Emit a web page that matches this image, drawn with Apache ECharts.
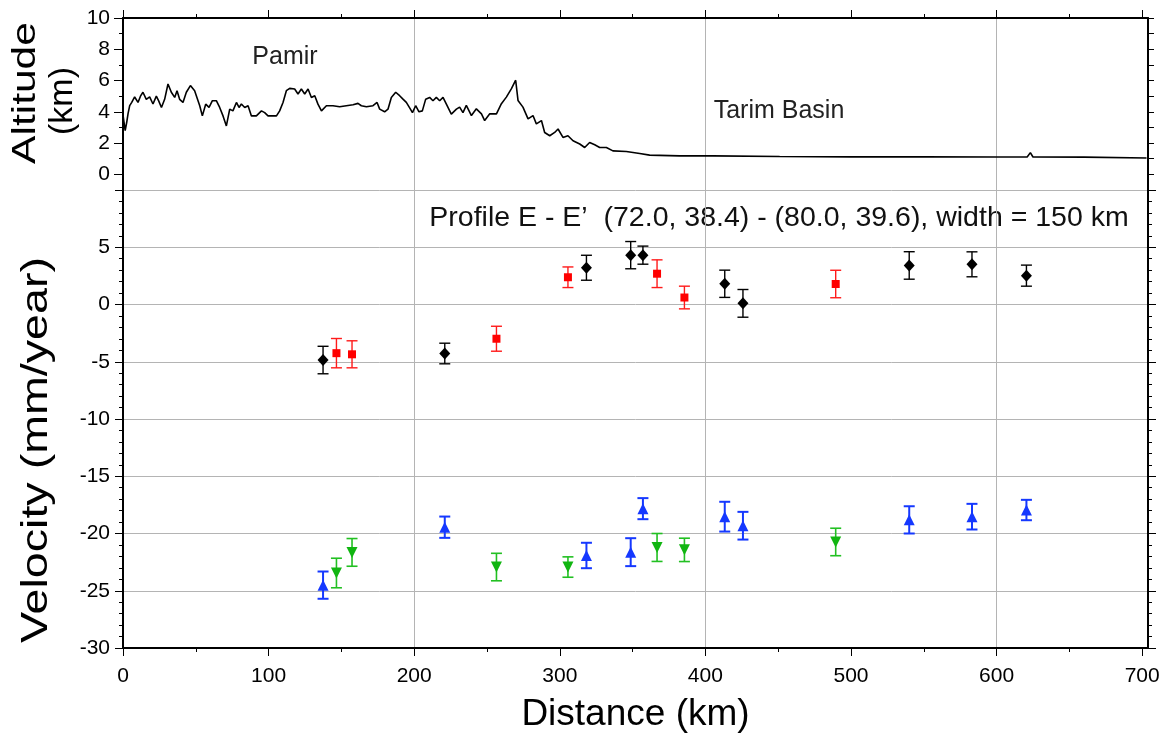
<!DOCTYPE html>
<html>
<head>
<meta charset="utf-8">
<title>Profile E - E'</title>
<script src="https://cdn.jsdelivr.net/npm/echarts@6/dist/echarts.min.js"></script>
<style>
    html, body { margin: 0; padding: 0; background: #fff; }
    #mainChart { width: 1160px; height: 734px; }
</style>
</head>
<body>
<div id="mainChart"></div>
<script>
// topography along the profile (km, km)
var altDist = [0, 1.5, 2.5, 3.5, 4.6, 6, 8, 10.3, 12, 13.7, 16, 18.3, 20.6, 22.9, 24.5, 26.4, 28.6, 30.9, 33.2, 35.5,
    37.1, 38.9, 41.2, 43.5, 46.3, 49.2, 52.7, 54.5, 56.8, 59.1, 61.4, 64.1, 66.4, 68.7, 71, 73.3, 75.5, 77.9, 79.7, 81.3,
    83.6, 85.9, 88.2, 91.6, 95.1, 97.3, 99.6, 105.4, 107.6, 109.9, 112.2, 114.5, 117.9, 120.2, 122.5, 124.8, 127.1, 129.4, 131.7, 133.9,
    136.3, 139.7, 144.2, 148.8, 153.4, 158, 161.4, 163.7, 167.2, 171.7, 174.5, 176.3, 179.7, 182, 184.3, 187.3, 190, 192.3, 194.6, 197.4,
    198.8, 201, 203.3, 205.6, 207.9, 210.6, 212.9, 215.2, 217.5, 219.8, 222.1, 225.5, 229, 231.2, 233.5, 235.8, 239.3, 242.7, 246.2, 248.4,
    251.9, 256.5, 259.9, 263.3, 266.8, 269.7, 271.3, 274.7, 278.2, 281.6, 283.9, 287.4, 289.6, 293.1, 296.5, 298.8, 302.2, 305.6, 309.1, 313.7,
    317.1, 320.5, 324, 327.4, 332, 336.5, 345.7, 354.9, 361.7, 382.3, 405.2, 451, 500, 550, 600, 621, 623.2, 625, 660, 703];
var altKm = [3.8, 2.8, 3.3, 3.9, 4.4, 4.6, 4.95, 4.6, 5.0, 5.25, 4.8, 4.95, 4.5, 5.0, 4.7, 4.28, 4.8, 5.78, 5.25, 4.92,
    5.35, 4.8, 4.6, 5.25, 5.68, 5.35, 4.39, 3.74, 4.49, 4.28, 4.71, 4.71, 4.28, 3.74, 3.1, 4.17, 4.06, 4.6, 4.28, 4.5,
    4.28, 4.39, 3.74, 3.74, 4.06, 3.95, 3.74, 3.74, 4.06, 4.6, 5.35, 5.5, 5.46, 5.14, 5.46, 5.14, 5.46, 4.92, 5.03, 4.49,
    4.06, 4.39, 4.39, 4.32, 4.39, 4.45, 4.54, 4.39, 4.32, 4.39, 4.6, 4.17, 4.0, 4.17, 4.92, 5.25, 5.03, 4.81, 4.6, 4.17,
    3.95, 4.39, 4.0, 4.06, 4.81, 4.92, 4.71, 4.92, 4.71, 4.92, 4.49, 3.85, 4.17, 4.3, 3.95, 4.41, 3.76, 4.19, 3.87, 3.44,
    3.87, 3.87, 4.52, 4.94, 5.48, 6.02, 4.73, 4.3, 3.55, 3.76, 3.23, 3.44, 2.68, 2.47, 2.68, 2.9, 2.36, 2.47, 2.15, 1.94,
    1.72, 2.04, 1.89, 1.72, 1.72, 1.5, 1.46, 1.33, 1.23, 1.18, 1.18, 1.14, 1.12, 1.12, 1.11, 1.11, 1.39, 1.11, 1.1, 1.05];

// velocities (mm/year) with 1-sigma errors
var blackX = [137.4, 221, 318.3, 348.7, 357.1, 413.3, 425.8, 540, 583.1, 620.5];
var blackV = [-4.85, -4.28, 3.21, 4.31, 4.31, 1.81, 0.1, 3.41, 3.51, 2.52];
var blackE = [1.2, 0.9, 1.09, 1.19, 0.79, 1.19, 1.21, 1.2, 1.09, 0.92];

var redX = [146.6, 157.3, 256.5, 305.6, 366.8, 385.6, 489.5];
var redV = [-4.25, -4.35, -2.99, 2.38, 2.69, 0.61, 1.79];
var redE = [1.28, 1.18, 1.09, 0.9, 1.21, 0.99, 1.2];

var blueX = [137.4, 221, 318.3, 348.7, 357.1, 413.3, 425.8, 540, 583.1, 620.5];
var blueV = [-24.51, -19.45, -21.92, -21.63, -17.83, -18.53, -19.32, -18.81, -18.53, -17.95];
var blueE = [1.19, 0.93, 1.11, 1.22, 0.92, 1.3, 1.21, 1.19, 1.12, 0.89];

var greenX = [146.6, 157.3, 256.5, 305.6, 366.8, 385.6, 489.5];
var greenV = [-23.45, -21.65, -22.93, -22.93, -21.22, -21.43, -20.74];
var greenE = [1.29, 1.21, 1.2, 0.89, 1.22, 1.02, 1.2];

// tick labels
var distMajor = [0, 100, 200, 300, 400, 500, 600, 700];
var distMinor = [0, 50, 100, 150, 200, 250, 300, 350, 400, 450, 500, 550, 600, 650, 700];
var altMajor = [0, 2, 4, 6, 8, 10];

var FONT = "'Liberation Sans', Helvetica, Arial, sans-serif";
var X_MAX = 704;

var myChart = echarts.init(document.getElementById('mainChart'));

function pairs(xs, ys) {
    var out = [];
    for (var i = 0; i < xs.length; i++) {
        out.push([xs[i], ys[i]]);
    }
    return out;
}

function errData(xs, vs, es) {
    var out = [];
    for (var i = 0; i < xs.length; i++) {
        out.push([xs[i], vs[i] - es[i], vs[i] + es[i]]);
    }
    return out;
}

// vertical error bar with caps
function errSeries(xs, vs, es, color, lw) {
    return {
        type: 'custom',
        xAxisIndex: 3,
        yAxisIndex: 3,
        silent: true,
        z: 3,
        encode: {x: 0, y: [1, 2]},
        data: errData(xs, vs, es),
        renderItem: function (params, api) {
            var lo = api.coord([api.value(0), api.value(1)]);
            var hi = api.coord([api.value(0), api.value(2)]);
            var w = 5.5;
            var st = {stroke: color, lineWidth: lw};
            return {
                type: 'group',
                children: [
                    {type: 'line', shape: {x1: lo[0], y1: lo[1], x2: hi[0], y2: hi[1]}, style: st},
                    {type: 'line', shape: {x1: lo[0] - w, y1: lo[1], x2: lo[0] + w, y2: lo[1]}, style: st},
                    {type: 'line', shape: {x1: hi[0] - w, y1: hi[1], x2: hi[0] + w, y2: hi[1]}, style: st}
                ]
            };
        }
    };
}

function markSeries(xs, vs, color, symbol, size, rotate) {
    return {
        type: 'scatter',
        xAxisIndex: 3,
        yAxisIndex: 3,
        symbol: symbol,
        symbolSize: size,
        symbolRotate: rotate || 0,
        z: 4,
        itemStyle: {color: color, opacity: 1},
        data: pairs(xs, vs)
    };
}

var blackLine = {show: true, onZero: false, lineStyle: {color: '#000', width: 2}};
var hideLine = {show: false, onZero: false};
var gridLine = {show: true, lineStyle: {color: '#b4b4b4', width: 1}};
var noLabel = {show: false};
var tickStyle = {color: '#000', width: 1};

var option = {
    animation: false,
    backgroundColor: '#fff',
    grid: [
        {left: 123, top: 18, width: 1025, height: 172, outerBoundsMode: 'none'},
        {left: 123, top: 190, width: 1025, height: 458, outerBoundsMode: 'none'}
    ],
    xAxis: [
        // altitude panel: top frame with ticks
        {gridIndex: 0, type: 'value', position: 'top', min: 0, max: X_MAX, interval: 100,
            axisLine: blackLine,
            axisTick: {show: true, length: 4, customValues: distMinor, lineStyle: tickStyle},
            axisLabel: noLabel, splitLine: {show: false}},
        {gridIndex: 0, type: 'value', position: 'top', min: 0, max: X_MAX, interval: 100,
            axisLine: hideLine,
            axisTick: {show: true, length: 8, customValues: distMajor, lineStyle: tickStyle},
            axisLabel: noLabel, splitLine: {show: false}},
        {gridIndex: 0, type: 'value', position: 'bottom', min: 0, max: X_MAX, interval: 200,
            axisLine: hideLine, axisTick: {show: false}, axisLabel: noLabel, splitLine: gridLine},
        // velocity panel: bottom axis
        {gridIndex: 1, type: 'value', position: 'bottom', min: 0, max: X_MAX, interval: 100,
            axisLine: blackLine,
            axisTick: {show: true, length: 4, customValues: distMinor, lineStyle: tickStyle},
            axisLabel: noLabel, splitLine: {show: false}},
        {gridIndex: 1, type: 'value', position: 'bottom', min: 0, max: X_MAX, interval: 100,
            name: 'Distance (km)', nameLocation: 'middle', nameGap: 48,
            nameTextStyle: {fontFamily: FONT, fontSize: 37, color: '#000'},
            axisLine: hideLine,
            axisTick: {show: true, length: 8, customValues: distMajor, lineStyle: tickStyle},
            axisLabel: {show: true, customValues: distMajor, margin: 18, fontFamily: FONT, fontSize: 21, color: '#000'},
            splitLine: {show: false}},
        {gridIndex: 1, type: 'value', position: 'bottom', min: 0, max: X_MAX, interval: 200,
            axisLine: hideLine, axisTick: {show: false}, axisLabel: noLabel, splitLine: gridLine}
    ],
    yAxis: [
        {gridIndex: 0, type: 'value', position: 'left', min: -1, max: 10, interval: 1,
            axisLine: blackLine,
            axisTick: {show: true, length: 4, lineStyle: tickStyle},
            axisLabel: noLabel, splitLine: {show: false}},
        {gridIndex: 0, type: 'value', position: 'left', min: -1, max: 10, interval: 1,
            axisLine: hideLine,
            axisTick: {show: true, length: 9, customValues: altMajor, lineStyle: tickStyle},
            axisLabel: {show: true, customValues: altMajor, margin: 13, fontFamily: FONT, fontSize: 21, color: '#000'},
            splitLine: {show: false}},
        {gridIndex: 0, type: 'value', position: 'right', min: -1, max: 10, interval: 1,
            axisLine: blackLine,
            axisTick: {show: true, length: 6, lineStyle: tickStyle},
            axisLabel: noLabel, splitLine: {show: false}},
        {gridIndex: 1, type: 'value', position: 'left', min: -30, max: 10, interval: 5,
            axisLine: blackLine,
            axisTick: {show: true, length: 8, lineStyle: tickStyle},
            minorTick: {show: true, splitNumber: 5, length: 4, lineStyle: tickStyle},
            axisLabel: {show: true, margin: 13, fontFamily: FONT, fontSize: 21, color: '#000',
                formatter: function (v) { return v >= 10 ? '' : String(v); }},
            splitLine: gridLine},
        {gridIndex: 1, type: 'value', position: 'right', min: -30, max: 10, interval: 5,
            axisLine: blackLine,
            axisTick: {show: true, length: 8, lineStyle: tickStyle},
            minorTick: {show: true, splitNumber: 5, length: 4, lineStyle: tickStyle},
            axisLabel: noLabel, splitLine: {show: false}}
    ],
    graphic: [
        {type: 'text', x: 26, y: 93, rotation: Math.PI / 2, scaleX: 1.25,
            style: {text: 'Altitude', fontFamily: FONT, fontSize: 34, fill: '#000',
                align: 'center', verticalAlign: 'middle', textAlign: 'center', textVerticalAlign: 'middle'}},
        {type: 'text', x: 63, y: 101, rotation: Math.PI / 2,
            style: {text: '(km)', fontFamily: FONT, fontSize: 34, fill: '#000',
                align: 'center', verticalAlign: 'middle', textAlign: 'center', textVerticalAlign: 'middle'}},
        {type: 'text', x: 37, y: 450, rotation: Math.PI / 2, scaleX: 1.26,
            style: {text: 'Velocity (mm/year)', fontFamily: FONT, fontSize: 37, fill: '#000',
                align: 'center', verticalAlign: 'middle', textAlign: 'center', textVerticalAlign: 'middle'}},
        {type: 'text', x: 285, y: 57,
            style: {text: 'Pamir', fontFamily: FONT, fontSize: 25, fill: '#222',
                align: 'center', verticalAlign: 'middle', textAlign: 'center', textVerticalAlign: 'middle'}},
        {type: 'text', x: 779, y: 111,
            style: {text: 'Tarim Basin', fontFamily: FONT, fontSize: 25, fill: '#222',
                align: 'center', verticalAlign: 'middle', textAlign: 'center', textVerticalAlign: 'middle'}},
        {type: 'text', x: 779, y: 218,
            style: {text: 'Profile E - E\u2019  (72.0, 38.4) - (80.0, 39.6), width = 150 km', fontFamily: FONT, fontSize: 28.5, fill: '#111',
                align: 'center', verticalAlign: 'middle', textAlign: 'center', textVerticalAlign: 'middle'}}
    ],
    series: [
        {
            type: 'line',
            xAxisIndex: 0,
            yAxisIndex: 0,
            symbol: 'none',
            silent: true,
            lineStyle: {color: '#000', width: 1.6},
            data: pairs(altDist, altKm)
        },
        errSeries(blackX, blackV, blackE, '#000', 1.4),
        errSeries(redX, redV, redE, '#ff1a1a', 1.4),
        errSeries(blueX, blueV, blueE, '#1538ff', 2),
        errSeries(greenX, greenV, greenE, '#22c022', 1.6),
        markSeries(blackX, blackV, '#000', 'diamond', [11, 12]),
        markSeries(redX, redV, '#ff0000', 'rect', 8),
        markSeries(blueX, blueV, '#1538ff', 'triangle', 11),
        markSeries(greenX, greenV, '#11b511', 'triangle', 11, 180)
    ]
};
myChart.setOption(option);
</script>
</body>
</html>
